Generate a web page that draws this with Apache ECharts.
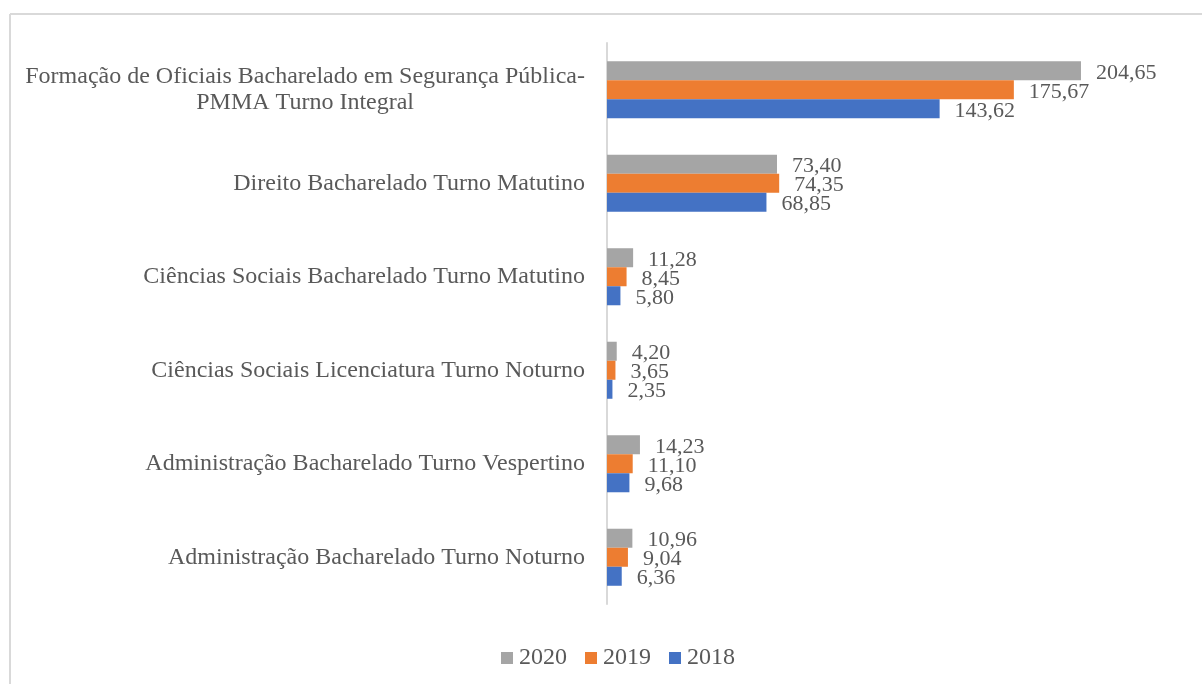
<!DOCTYPE html>
<html>
<head>
<meta charset="utf-8">
<script src="https://cdn.jsdelivr.net/npm/echarts@6/dist/echarts.min.js"></script>
<style>
html,body{margin:0;padding:0;background:#fff;}
#c{width:1202px;height:684px;}
</style>
</head>
<body>
<div id="c"></div>
<script>
const categories = [
  'Formação de Oficiais Bacharelado em Segurança Pública-\nPMMA Turno Integral',
  'Direito Bacharelado Turno Matutino',
  'Ciências Sociais Bacharelado Turno Matutino',
  'Ciências Sociais Licenciatura Turno Noturno',
  'Administração Bacharelado Turno Vespertino',
  'Administração Bacharelado Turno Noturno'
];
const seriesNames = ['2020', '2019', '2018'];
const values2020 = [204.65, 73.40, 11.28, 4.20, 14.23, 10.96];
const values2019 = [175.67, 74.35, 8.45, 3.65, 11.10, 9.04];
const values2018 = [143.62, 68.85, 5.80, 2.35, 9.68, 6.36];
const colors = ['#A5A5A5', '#ED7D31', '#4472C4'];

const FONT = '"Liberation Serif", "Times New Roman", serif';
const TXT = '#595959';

const chart = echarts.init(document.getElementById('c'), null, {renderer: 'canvas'});

function mkSeries(name, data, color) {
  return {
    name: name,
    type: 'bar',
    data: data,
    barGap: '0%',
    barCategoryGap: '39%',
    itemStyle: {color: color},
    label: {
      show: true,
      position: 'right',
      distance: 15,
      offset: [0, 2],
      color: TXT,
      fontFamily: FONT,
      fontSize: 22,
      formatter: p => p.value.toFixed(2).replace('.', ',')
    },
    emphasis: {disabled: true}
  };
}

chart.setOption({
  animation: false,
  backgroundColor: '#fff',
  color: colors,
  grid: {left: 607, right: 16, top: 43, bottom: 80, containLabel: false},
  legend: {
    data: seriesNames,
    bottom: 9,
    left: 496,
    itemWidth: 12,
    itemHeight: 12,
    itemGap: 18,
    icon: 'rect',
    textStyle: {color: TXT, fontFamily: FONT, fontSize: 24, padding: [0, 0, 0, 1]}
  },
  xAxis: {
    type: 'value',
    min: 0,
    max: 250,
    show: false
  },
  yAxis: {
    type: 'category',
    data: categories,
    inverse: true,
    axisLine: {show: true, lineStyle: {color: '#D9D9D9', width: 2}},
    axisTick: {show: false},
    splitLine: {show: false},
    axisLabel: {
      margin: 22,
      color: TXT,
      fontFamily: FONT,
      fontSize: 24,
      lineHeight: 26,
      formatter: v => v.split('\n').map(s => '{c|' + s + '}').join('\n'),
      rich: {c: {align: 'center', color: TXT, fontFamily: FONT, fontSize: 24, lineHeight: 26}}
    }
  },
  graphic: [
    {type: 'line', shape: {x1: 10, y1: 14, x2: 1202, y2: 14}, style: {stroke: '#D9D9D9', lineWidth: 2}, silent: true},
    {type: 'line', shape: {x1: 10, y1: 14, x2: 10, y2: 684}, style: {stroke: '#D9D9D9', lineWidth: 2}, silent: true}
  ],
  series: [
    mkSeries(seriesNames[0], values2020, colors[0]),
    mkSeries(seriesNames[1], values2019, colors[1]),
    mkSeries(seriesNames[2], values2018, colors[2])
  ]
});
</script>
</body>
</html>
